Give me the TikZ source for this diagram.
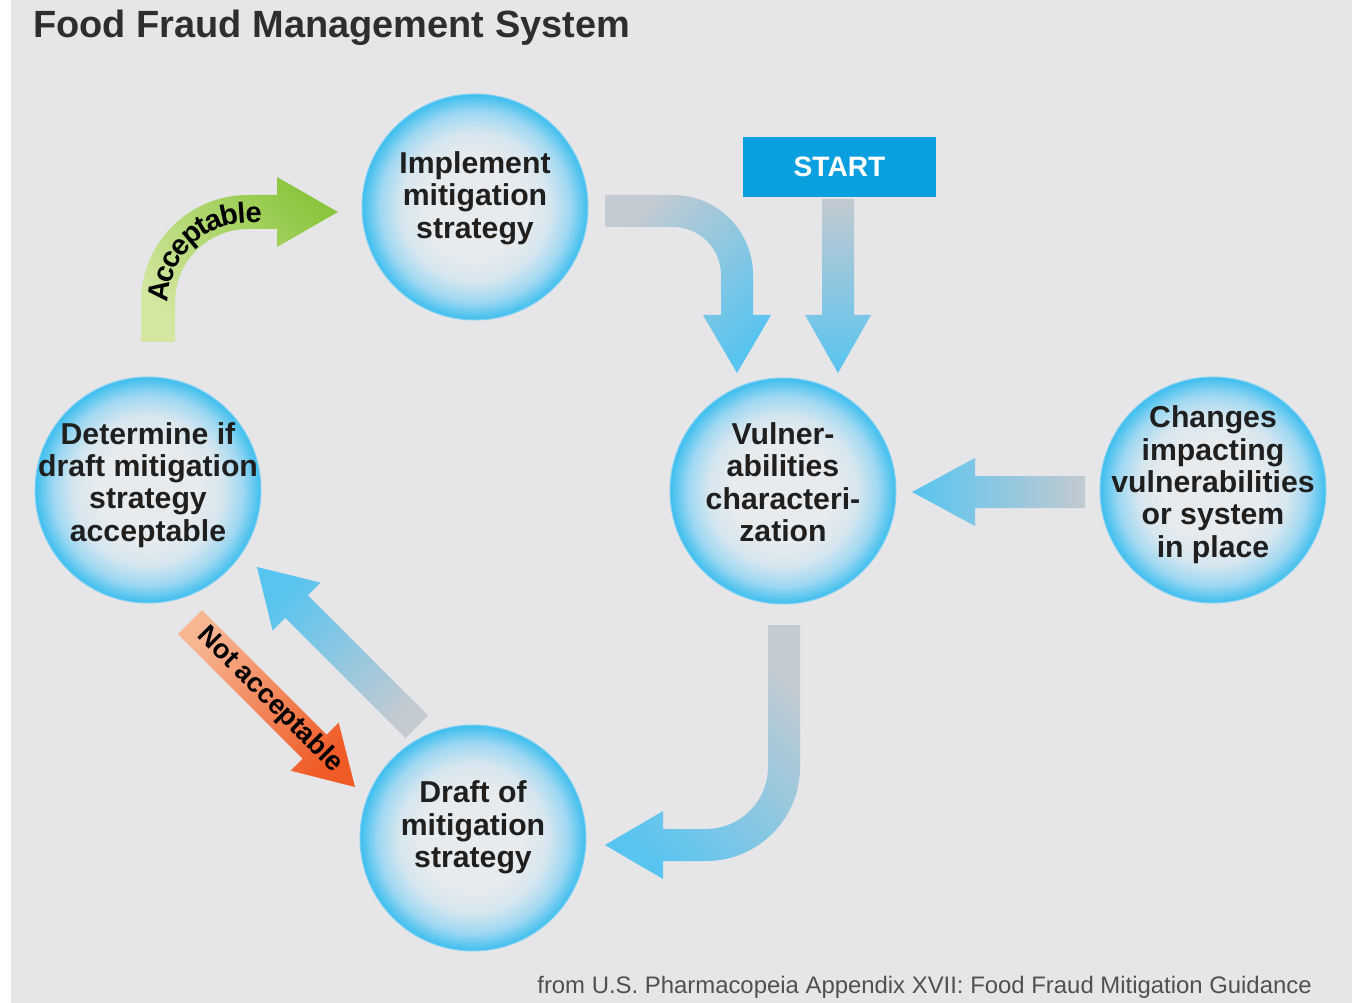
\documentclass[tikz,border=0pt]{standalone}
\usepackage{fontspec}
\setmainfont{Liberation Sans}
\usetikzlibrary{decorations.text}
\definecolor{bg}{HTML}{E6E6E8}
\definecolor{bubin}{HTML}{E8EBEE}
\definecolor{bubin2}{HTML}{D6E6EF}
\definecolor{bubmid}{HTML}{9FD8F2}
\definecolor{bubout}{HTML}{3DBEEE}
\definecolor{bubedge}{HTML}{7FD0F2}
\definecolor{arrgrey}{HTML}{C3CAD1}
\definecolor{arrblue}{HTML}{58C4F0}
\definecolor{grnlight}{HTML}{D3E7A0}
\definecolor{grndark}{HTML}{8CC63F}
\definecolor{orglight}{HTML}{F7B592}
\definecolor{orgdark}{HTML}{EF5B27}
\definecolor{startblue}{HTML}{0A9FDF}
\definecolor{txt}{HTML}{1F1F1F}
\definecolor{captxt}{HTML}{505050}
\pgfdeclareradialshading{bubble}{\pgfpointorigin}{color(0bp)=(bubin); color(11bp)=(bubin); color(16.5bp)=(bubin2); color(21bp)=(bubmid); color(25bp)=(bubout); color(50bp)=(bubout)}
\tikzset{
  bubblenode/.style={circle, minimum size=4.52cm, inner sep=0pt, shade, shading=bubble, draw=bubedge, line width=0.6pt},
  ctext/.style={align=center, text=txt, font=\fontsize{17.2pt}{18.4pt}\selectfont\bfseries, inner sep=0pt},
  startbox/.style={fill=startblue, minimum width=3.86cm, minimum height=1.2cm, inner sep=0pt, text=white, font=\fontsize{16pt}{16pt}\selectfont\bfseries},
  labeltxt/.style={text=black, font=\fontsize{15.5pt}{15.5pt}\selectfont\bfseries, inner sep=0pt}
}
\begin{document}
\begin{tikzpicture}[x=0.02cm, y=-0.02cm]
\useasboundingbox (0,0) rectangle (1352,1003);
\fill[white] (0,0) rectangle (1352,1003);
\fill[bg] (11,0) rectangle (1352,1003);

% title and caption
\node[anchor=base west, inner sep=0pt, text=black!82, font=\fontsize{21.6pt}{21.6pt}\selectfont\bfseries] (title) at (33,38) {Food Fraud Management System};
\node[anchor=base west, inner sep=0pt, text=captxt, font=\fontsize{13.6pt}{13.6pt}\selectfont] (caption) at (537,993) {from U.S. Pharmacopeia Appendix XVII: Food Fraud Mitigation Guidance};

% circles
\node[bubblenode] (imp) at (475,207) {};
\node[bubblenode] (det) at (148,490) {};
\node[bubblenode] (vul) at (783,491) {};
\node[bubblenode] (chg) at (1213,490) {};
\node[bubblenode] (dra) at (473,838) {};

\node[ctext, yshift=5pt] (impt) at (imp) {Implement\\mitigation\\strategy};
\node[ctext, yshift=3pt] (dett) at (det) {Determine if\\draft mitigation\\strategy\\acceptable};
\node[ctext, yshift=5pt] (vult) at (vul) {Vulner-\\abilities\\characteri-\\zation};
\node[ctext, yshift=3pt] (chgt) at (chg) {Changes\\impacting\\vulnerabilities\\or system\\in place};
\node[ctext, yshift=6pt] (drat) at (dra) {Draft of\\mitigation\\strategy};

% start box
\node[startbox] (start) at (839.5,167) {START};

% arrow: implement -> vulnerabilities
\path[top color=arrgrey, bottom color=arrblue, shading angle=45]
  (605,195) -- (673,195) .. controls (717.2,195) and (753,230.8) .. (753,275)
  -- (753,315) -- (771,315) -- (737,373) -- (703,315) -- (721,315) -- (721,275)
  .. controls (721,248.5) and (699.5,227) .. (673,227) -- (605,227) -- cycle;

% arrow: start -> vulnerabilities
\path[top color=arrgrey, bottom color=arrblue]
  (822,199) -- (854,199) -- (854,315) -- (871,315) -- (838,373) -- (805,315) -- (822,315) -- cycle;

% arrow: changes -> vulnerabilities
\path[left color=arrblue, right color=arrgrey]
  (1085,476) -- (975,476) -- (975,458) -- (912,492) -- (975,526) -- (975,508) -- (1085,508) -- cycle;

% arrow: vulnerabilities -> draft
\path[top color=arrgrey, bottom color=arrblue, shading angle=-45]
  (768,625) -- (800,625) -- (800,767) .. controls (800,818.9) and (757.9,861) .. (706,861)
  -- (663,861) -- (663,879) -- (605,845) -- (663,811) -- (663,829) -- (706,829)
  .. controls (740.2,829) and (768,801.2) .. (768,767) -- cycle;

% arrow: draft -> determine
\path[top color=arrblue, bottom color=arrgrey, shading angle=45]
  (257,567) -- (320.6,582.6) -- (307.9,595.3) -- (428.1,715.5) -- (405.5,738.1)
  -- (285.3,617.9) -- (272.6,630.6) -- cycle;

% arrow: not acceptable
\path[top color=orglight, bottom color=orgdark, shading angle=45]
  (202,610) -- (326.7,734.7) -- (338.7,722.7) -- (355,787) -- (290.7,770.7)
  -- (302.7,758.7) -- (178,634) -- cycle;
\node[labeltxt, rotate=-45] (nat) at (270,700) {Not acceptable};

% arrow: acceptable
\path[top color=grndark, bottom color=grnlight, shading angle=-45]
  (141,342) -- (141,302) .. controls (141,242.9) and (188.9,195) .. (248,195)
  -- (277,195) -- (277,177) -- (338,212) -- (277,247) -- (277,229) -- (248,229)
  .. controls (207.7,229) and (175,261.7) .. (175,302) -- (175,342) -- cycle;
\path[decorate, decoration={text along path, text align=center, raise=-6pt,
  text={|\fontsize{16.5pt}{16.5pt}\selectfont\bfseries|Acceptable}}]
  (158,312) -- (158,302) .. controls (158,252.3) and (198.3,212) .. (248,212) -- (272,212);
\end{tikzpicture}
\end{document}
